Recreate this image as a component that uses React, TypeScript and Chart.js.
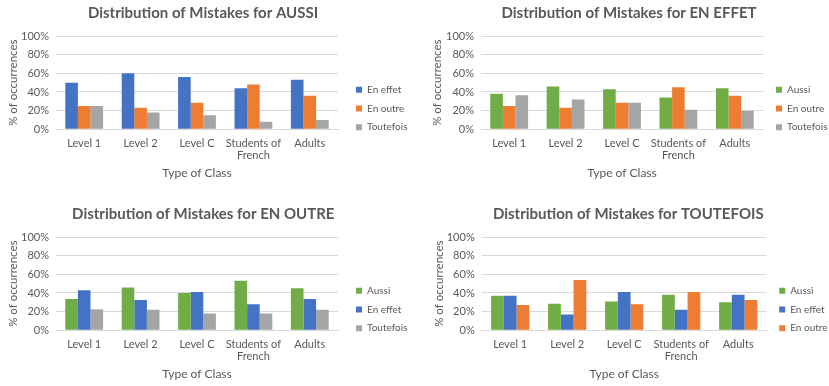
import { useEffect, useRef } from 'react';
import { Chart, registerables } from 'chart.js';

Chart.register(...registerables);

// Class types shown along the x axis
const categories: (string | string[])[] = ['Level 1', 'Level 2', 'Level C', ['Students of', 'French'], 'Adults'];
const yTickValues = [0, 20, 40, 60, 80, 100];

// AUSSI
const aussiEnEffet = [50, 60, 56, 44, 53];
const aussiEnOutre = [25, 23, 28.5, 48, 36];
const aussiToutefois = [25, 18, 15, 8, 10];

// EN EFFET
const enEffetAussi = [38, 46, 43, 34, 44];
const enEffetEnOutre = [25, 23, 28.5, 45, 36];
const enEffetToutefois = [36.5, 32, 28.5, 21, 20];

// EN OUTRE
const enOutreAussi = [33.5, 46, 40, 53, 45];
const enOutreEnEffet = [43, 32.5, 41, 28, 33.5];
const enOutreToutefois = [22.5, 22, 18, 18, 22];

// TOUTEFOIS
const toutefoisAussi = [37, 28.5, 31, 38, 30];
const toutefoisEnEffet = [37, 17, 41, 22, 38];
const toutefoisEnOutre = [27, 54, 28, 41, 32.5];

const BLUE = '#4472C4';
const ORANGE = '#ED7D31';
const GRAY = '#A5A5A5';
const GREEN = '#70AD47';
const TEXT = '#595959';
const GRID = '#D9D9D9';
const FONT = 'Lato, "Open Sans", sans-serif';

type Series = { label: string; data: number[]; color: string };

type PanelProps = {
  title: string;
  series: Series[];
  left: number;
  top: number;
  padL: number;
  padR: number;
  yWidth: number;
  yTitlePad: number;
  legendDx: number;
  legendDy: number;
};

const W = 414;
const H = 195;
const LEGEND_WIDTH = 52;

// Moves the right-hand legend after layout and widens its clip box to the canvas edge
const legendNudge = {
  id: 'legendNudge',
  afterLayout(chart: any, _args: any, opts: any) {
    const lg = chart.legend;
    if (!lg) return;
    const dx = opts.dx || 0;
    const dy = opts.dy || 0;
    lg.left += dx;
    lg.right = chart.width;
    lg.width = lg.right - lg.left;
    lg.top += dy;
    lg.bottom += dy;
  },
};

function Panel(p: PanelProps) {
  const ref = useRef<HTMLCanvasElement | null>(null);

  useEffect(() => {
    if (!ref.current) return;
    const chart = new Chart(ref.current, {
      type: 'bar',
      data: {
        labels: categories as any,
        datasets: p.series.map((s) => ({
          label: s.label,
          data: s.data,
          backgroundColor: s.color,
          borderWidth: 0,
          categoryPercentage: 0.67,
          barPercentage: 1,
        })),
      },
      plugins: [legendNudge],
      options: {
        animation: false,
        responsive: false,
        devicePixelRatio: 1,
        layout: { padding: { left: p.padL, right: p.padR, top: 0, bottom: 0 } },
        plugins: {
          title: {
            display: true,
            text: p.title,
            color: TEXT,
            font: { family: FONT, size: 15, weight: 'bold', lineHeight: 1.2 },
            padding: { top: 4.3, bottom: 13.7 },
          },
          legend: {
            position: 'right',
            align: 'center',
            maxWidth: LEGEND_WIDTH,
            labels: {
              boxWidth: 6,
              boxHeight: 6,
              padding: 8.7,
              color: TEXT,
              font: { family: FONT, size: 10 },
            },
          },
          tooltip: { enabled: false },
          legendNudge: { dx: p.legendDx, dy: p.legendDy },
        } as any,
        scales: {
          x: {
            grid: { display: false, drawTicks: false },
            border: { color: GRID },
            ticks: {
              color: TEXT,
              font: { family: FONT, size: 11, lineHeight: 1.1 },
              padding: 8,
              maxRotation: 0,
              autoSkip: false,
            },
            title: {
              display: true,
              text: 'Type of Class',
              color: TEXT,
              font: { family: FONT, size: 12 },
              padding: { top: 0, bottom: 14.5 },
            },
            afterFit: (s: any) => {
              s.height = 65.7;
            },
          },
          y: {
            min: 0,
            max: 100,
            afterBuildTicks: (s: any) => {
              s.ticks = yTickValues.map((v) => ({ value: v }));
            },
            ticks: {
              color: TEXT,
              font: { family: FONT, size: 11 },
              padding: 7,
              callback: (v: any) => `${v}%`,
            },
            grid: { color: GRID, drawTicks: false },
            border: { display: false },
            title: {
              display: true,
              text: '% of occurrences',
              color: TEXT,
              font: { family: FONT, size: 11.5 },
              padding: { top: p.yTitlePad, bottom: 0 },
            },
            afterFit: (s: any) => {
              s.width = p.yWidth;
            },
          },
        },
      },
    });
    return () => chart.destroy();
  }, []);

  return (
    <canvas
      ref={ref}
      width={W}
      height={H}
      style={{ position: 'absolute', left: p.left, top: p.top, width: W, height: H }}
    />
  );
}

export default function App() {
  return (
    <div
      style={{
        position: 'absolute',
        left: 0,
        top: 0,
        width: 829,
        height: 386,
        overflow: 'hidden',
        background: '#fff',
      }}
    >
      <Panel
        title="Distribution of Mistakes for AUSSI"
        series={[
          { label: 'En effet', data: aussiEnEffet, color: BLUE },
          { label: 'En outre', data: aussiEnOutre, color: ORANGE },
          { label: 'Toutefois', data: aussiToutefois, color: GRAY },
        ]}
        left={0}
        top={0}
        padL={16}
        padR={24}
        yWidth={40}
        yTitlePad={-9.6}
        legendDx={9.3}
        legendDy={11}
      />
      <Panel
        title="Distribution of Mistakes for EN EFFET"
        series={[
          { label: 'Aussi', data: enEffetAussi, color: GREEN },
          { label: 'En outre', data: enEffetEnOutre, color: ORANGE },
          { label: 'Toutefois', data: enEffetToutefois, color: GRAY },
        ]}
        left={415}
        top={0}
        padL={28}
        padR={14}
        yWidth={38}
        yTitlePad={-12.2}
        legendDx={4.3}
        legendDy={11}
      />
      <Panel
        title="Distribution of Mistakes for EN OUTRE"
        series={[
          { label: 'Aussi', data: enOutreAussi, color: GREEN },
          { label: 'En effet', data: enOutreEnEffet, color: BLUE },
          { label: 'Toutefois', data: enOutreToutefois, color: GRAY },
        ]}
        left={0}
        top={201}
        padL={16.6}
        padR={24}
        yWidth={39.4}
        yTitlePad={-10.2}
        legendDx={9.3}
        legendDy={11}
      />
      <Panel
        title="Distribution of Mistakes for TOUTEFOIS"
        series={[
          { label: 'Aussi', data: toutefoisAussi, color: GREEN },
          { label: 'En effet', data: toutefoisEnEffet, color: BLUE },
          { label: 'En outre', data: toutefoisEnOutre, color: ORANGE },
        ]}
        left={415}
        top={201}
        padL={22.9}
        padR={10.3}
        yWidth={43.8}
        yTitlePad={-5.8}
        legendDx={3.8}
        legendDy={11}
      />
    </div>
  );
}
